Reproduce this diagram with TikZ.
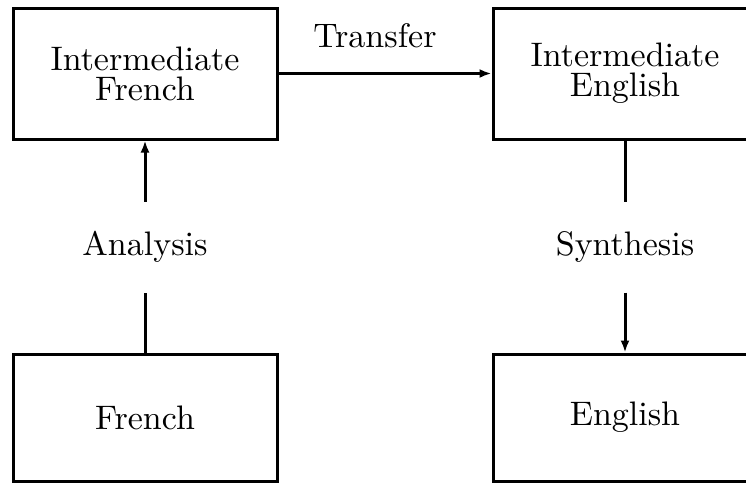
\documentclass[tikz,border=0pt]{standalone}
\usepackage{fontspec}
\setmainfont{lmroman10-regular.otf}
\usetikzlibrary{arrows.meta}
\begin{document}
\begin{tikzpicture}[x=0.5pt,y=0.5pt,yscale=-1, line width=1.5pt,
  every node/.style={font=\fontsize{17}{15}\selectfont},
  box/.style={draw, minimum width=132pt, minimum height=65.5pt, align=center},
  lowbox/.style={box, minimum height=63.5pt},
  stage/.style={minimum height=44pt, inner xsep=0pt},
  arr/.style={-{Latex[length=6pt,width=4.5pt]}}]
%set diagram left start at 0, and has height of 483
\useasboundingbox (0,0) rectangle (746,483);
\clip (0,0) rectangle (746,483);

%Rect
\node[box] (ifr) at (145,73.5) {Intermediate\\French};
%Rect
\node[box] (ien) at (625,73.5) {Intermediate\\English};
%Rect
\node[lowbox] (fr) at (145,417.5) {French};
%Rect
\node[lowbox] (en) at (625,417.5) {English};

% Text Node
\node[stage] (ana) at (145,247) {Analysis};
% Text Node
\node[stage] (syn) at (625,247) {Synthesis};

% Connection
\draw[arr] (ifr) -- node[above=8.5pt, xshift=-5pt] {Transfer} (ien);
% Connection
\draw (fr) -- (ana);
\draw[arr] (ana) -- (ifr);
% Connection
\draw (ien) -- (syn);
\draw[arr] (syn) -- (en);
\end{tikzpicture}
\end{document}
